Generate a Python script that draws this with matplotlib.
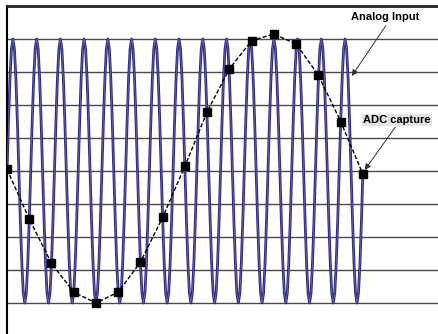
import numpy as np
from matplotlib import pyplot as plt

plt.rcParams['font.family'] = ['Liberation Sans', 'DejaVu Sans']

# one cycle of the analog input as drawn (16 points per cycle), repeated 15 times
cycle_levels = [5.0, 6.5, 7.8, 8.7, 9.0, 8.7, 7.8, 6.5, 5.0, 3.5, 2.2, 1.3, 1.0, 1.3, 2.2, 3.5]
n_cycles = 15

# ADC capture samples (one per sample clock)
sample_n = list(range(17))
sample_val = [5.05, 3.55, 2.2, 1.33, 1.0, 1.33, 2.24, 3.6, 5.15, 6.8, 8.1, 8.95, 9.15, 8.85, 7.9, 6.5, 4.9]

grid_levels = [1, 2, 3, 4, 5, 6, 7, 8, 9]

analog_y = cycle_levels * n_cycles + [cycle_levels[0]]
analog_x = np.arange(len(analog_y)) / n_cycles

fig = plt.figure(figsize=(4.39, 3.34), dpi=100)
ax = fig.add_axes([7 / 439, -2 / 334, 1 - 7 / 439, 1 - 4 / 334])

for g in grid_levels:
    ax.axhline(g, color='#4a4a4a', lw=1.0, zorder=1)

# analog input: dark line with a slightly lighter core
ax.plot(analog_x, analog_y, color='#2e2a7c', lw=2.0, zorder=2)
ax.plot(analog_x, analog_y, color='#6f6bb0', lw=0.5, zorder=3)

# ADC capture
ax.plot(sample_n, sample_val, ls=(0, (3, 1.5)), color='black', lw=1.0,
        marker='s', markersize=5.5, markerfacecolor='black', zorder=4)

ax.annotate('Analog Input', xy=(15.5, 7.88), xytext=(16.99, 9.67),
            ha='center', va='center', fontsize=8, fontweight='bold',
            arrowprops=dict(arrowstyle='-|>', color='#333333', lw=0.7,
                            relpos=(0.55, 0), shrinkA=1, shrinkB=0,
                            mutation_scale=9))
ax.annotate('ADC capture', xy=(16.08, 5.03), xytext=(17.53, 6.55),
            ha='center', va='center', fontsize=8, fontweight='bold',
            bbox=dict(boxstyle='square,pad=0.1', fc='#e4e4e4', ec='none'),
            arrowprops=dict(arrowstyle='-|>', color='#333333', lw=0.7,
                            relpos=(0.5, 0), shrinkA=1, shrinkB=0,
                            mutation_scale=9))

ax.set_xlim(0, 19.42)
ax.set_ylim(0, 10)
ax.set_xticks([])
ax.set_yticks([])
for side in ['right', 'bottom']:
    ax.spines[side].set_visible(False)
ax.spines['left'].set_linewidth(1.5)
ax.spines['top'].set_linewidth(2.0)
ax.spines['top'].set_color('#222222')

fig.savefig('out.png', dpi=100)
